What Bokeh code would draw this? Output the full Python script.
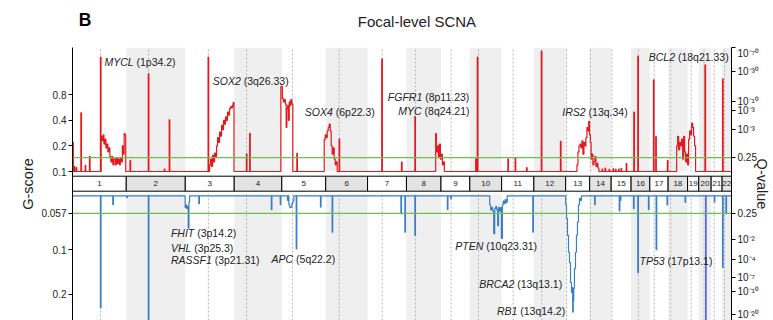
import math
from bokeh.plotting import figure
from bokeh.layouts import column
from bokeh.models import (Range1d, LogScale, LinearScale, LogAxis, FixedTicker,
                          CustomJSTickFormatter, Label)
from bokeh.core.properties import value
from bokeh.embed import file_html
from bokeh.resources import INLINE

# ---------------- data ----------------
chrom_names = [str(i) for i in range(1, 23)]
chrom_len = [235, 258, 214, 208, 192, 183, 170, 151, 126, 139, 141, 139,
             105, 94, 87, 82, 80, 85, 49, 54, 48, 41]
centromere = [123, 97.6, 101, 54, 47, 59, 64, 39, 44, 38, 50.5, 34.6,
              3.6, 3.2, 3, 32, 19, 11, 15.4, 23, 13.6, 10.5]

# amplification G-scores: focal spikes (genome Mb, G-score)
amp_spike_pos = [2.2, 8.7, 17.4, 37.9, 56.7, 75.4, 123.3, 252.8, 332.6, 402.3, 424.1,
                 594.1, 761.4, 775.8, 982.0, 1166.8, 1353.3, 1439.6, 1498.0, 1763.9,
                 1770.9, 1904.7, 1936.5, 1986.2, 2050.7, 2134.4, 2316.5, 2329.6, 2347.0,
                 2364.4, 2375.4, 2388.5, 2399.4, 2422.0, 2455.2, 2472.6, 2541.0, 2551.0,
                 2602.0, 2766.3, 2843.0]
amp_spike_g = [0.221, 0.114, 0.111, 0.49, 0.118, 0.151, 2.21, 0.135, 1.41, 0.107, 0.405,
               2.21, 0.161, 0.282, 0.164, 0.242, 2.11, 0.129, 0.443, 0.141,
               2.21, 0.141, 0.146, 0.111, 2.6, 0.227, 0.107, 0.11, 0.106,
               0.108, 0.106, 0.107, 0.109, 0.124, 0.5, 2.28, 1.2, 0.258,
               0.135, 1.8, 1.23]
# broad amplified regions: breakpoints (Mb) and G-score per interval
amp_1p_pos = [125.5, 129.9, 134.2, 137.3, 141.7, 146.0, 150.4, 154.7, 159.1, 163.4, 167.8,
              172.2, 176.5, 180.9, 187.4, 191.8, 196.1, 200.5, 204.8, 209.2, 213.6, 217.9,
              222.3, 225.8, 229.3, 232.7]
amp_1p_g = [0.26, 0.23, 0.27, 0.21, 0.24, 0.19, 0.21, 0.17, 0.19, 0.15, 0.13, 0.15, 0.12,
            0.14, 0.12, 0.145, 0.125, 0.14, 0.12, 0.145, 0.13, 0.20, 0.16, 0.28, 0.27]
amp_3q_pos = [599.3, 603.6, 608.0, 612.4, 616.7, 621.1, 625.4, 629.8, 634.2, 638.5, 642.9,
              647.2, 651.6, 655.9, 660.3, 664.7, 669.0, 673.4, 677.7, 682.1, 686.5, 690.8,
              695.2, 699.5, 702.6, 706.1]
amp_3q_g = [0.12, 0.14, 0.115, 0.155, 0.13, 0.165, 0.15, 0.2, 0.25, 0.22, 0.29, 0.26, 0.35,
            0.31, 0.4, 0.36, 0.44, 0.4, 0.5, 0.46, 0.55, 0.58, 0.56, 0.6, 0.65]
amp_5p_pos = [910.9, 917.5, 921.8, 926.2, 930.5, 934.0, 937.1, 940.6, 944.0, 947.5, 951.0,
              954.5, 958.9, 963.2]
amp_5p_g = [1.0, 0.72, 0.66, 0.7, 0.62, 0.33, 0.55, 0.6, 0.4, 0.66, 0.6, 0.7, 0.62]
amp_6p_pos = [1100.5, 1104.9, 1109.2, 1113.6, 1117.9, 1122.3, 1126.7, 1131.0, 1135.4,
              1139.7, 1144.1, 1148.5, 1152.8, 1157.2]
amp_6p_g = [0.24, 0.27, 0.25, 0.3, 0.33, 0.36, 0.3, 0.2, 0.16, 0.19, 0.14, 0.12, 0.13]
amp_8q_pos = [1587.8, 1590.9, 1595.2, 1599.6, 1603.9, 1608.3, 1612.6, 1617.0, 1621.4, 1625.7]
amp_8q_g = [0.28, 0.17, 0.2, 0.15, 0.21, 0.14, 0.16, 0.12, 0.13]
amp_13q_pos = [2205.4, 2209.7, 2214.1, 2218.5, 2222.8, 2227.2, 2231.5, 2235.9, 2240.3, 2244.6,
               2249.0, 2253.3, 2256.8, 2260.3, 2263.8, 2267.3, 2270.8, 2275.1, 2279.5,
               2283.8, 2288.2, 2292.6, 2296.9, 2301.3]
amp_13q_g = [0.12, 0.17, 0.2, 0.21, 0.19, 0.23, 0.16, 0.22, 0.2, 0.25, 0.33, 0.3, 0.39, 0.27,
             0.22, 0.14, 0.16, 0.12, 0.13, 0.15, 0.115, 0.125, 0.11]
amp_18q_pos = [2641.3, 2645.6, 2650.0, 2654.4, 2658.7, 2663.1, 2667.4, 2671.8, 2676.1, 2680.5,
               2684.9, 2689.2, 2693.6, 2697.9, 2702.3, 2706.7, 2711.0, 2715.4, 2719.7, 2724.1]
amp_18q_g = [0.2, 0.26, 0.18, 0.22, 0.2, 0.24, 0.14, 0.26, 0.17, 0.13, 0.16, 0.12, 0.24, 0.3,
             0.27, 0.37, 0.33, 0.26, 0.2]
amp_baseline = 0.1
amp_threshold = 0.146
amp_g_ticks = [0.1, 0.2, 0.4, 0.8]
amp_g_tick_label = ["0.1", "0.2", "0.4", "0.8"]
amp_q_g = [2.86, 1.512, 0.665, 0.522, 0.309, 0.146]
amp_q_label = ["10\u207b\u2077\u2070", "10\u207b\u00b3\u2070", "10\u207b\u00b9\u2070",
               "10\u207b\u00b3", "10\u207b\u00b3", "0.25"]

# deletion G-scores
del_spike_pos = [123.3, 177.4, 238.4, 332.6, 553.5, 870.4, 909.6, 941.4, 979.3, 1085.3,
                 1136.3, 1437.0, 1454.4, 1498.0, 1640.1, 1654.9, 2013.6, 2283.8, 2391.5,
                 2395.9, 2453.8, 2472.6, 2519.2, 2552.8, 2600.7, 2679.2, 2806.9, 2843.1, 2857.9]
del_spike_g = [0.246, 0.0498, 0.0447, 0.31, 0.049, 0.0538, 0.0497, 0.0466, 0.0986, 0.0516,
               0.0762, 0.0573, 0.0762, 0.0802, 0.0538, 0.0453, 0.0762, 0.0498, 0.0548,
               0.0466, 0.053, 0.143, 0.0538, 0.100, 0.050, 0.048, 0.0477, 0.132, 0.0573]
del_3p_pos = [492.5, 496.0, 499.5, 503.0, 505.6, 509.1, 511.7]
del_3p_g = [0.052, 0.05, 0.053, 0.051, 0.0716, 0.048]
del_5q_pos = [945.8, 950.1, 954.5, 958.9, 963.2, 967.6]
del_5q_g = [0.05, 0.052, 0.0516, 0.049, 0.047]
del_10q_pos = [1824.0, 1828.4, 1832.7, 1837.1, 1841.5, 1845.8, 1850.2, 1854.5, 1858.9, 1862.4,
               1866.7, 1871.1, 1875.0, 1879.4, 1882.9, 1887.2, 1891.6, 1896.0, 1900.3]
del_10q_g = [0.05, 0.054, 0.052, 0.055, 0.078, 0.053, 0.051, 0.054, 0.069, 0.052, 0.055,
             0.052, 0.084, 0.05, 0.047, 0.049, 0.046, 0.048]
del_13q_pos = [2156.1, 2159.6, 2164.0, 2168.4, 2172.7, 2177.1, 2181.4, 2184.5, 2186.7, 2189.3,
               2191.4, 2194.5, 2198.9, 2203.2, 2207.6, 2211.9, 2216.3, 2220.7, 2225.0]
del_13q_g = [0.05, 0.0615, 0.08, 0.104, 0.122, 0.166, 0.194, 0.179, 0.263, 0.22, 0.182,
             0.134, 0.104, 0.08, 0.0652, 0.05, 0.0452, 0.0466]
del_focal_pos = [2769.0]
del_focal_g = [0.31]
del_baseline = 0.0434
del_threshold = 0.057
del_g_ticks = [0.057, 0.1, 0.2]
del_g_tick_label = ["0.057", "0.1", "0.2"]
del_q_g = [0.057, 0.0853, 0.1161, 0.1539, 0.1911, 0.2727]
del_q_label = ["0.25", "10\u207b\u00b2", "10\u207b\u2074", "10\u207b\u2077",
               "10\u207b\u00b9\u2070", "10\u207b\u00b2\u2070"]

gene_names = ["MYCL", "SOX2", "SOX4", "FGFR1", "MYC", "IRS2", "BCL2",
              "FHIT", "VHL", "RASSF1", "APC", "PTEN", "BRCA2", "RB1", "TP53"]
gene_loci = ["(1p34.2)", "(3q26.33)", "(6p22.3)", "(8p11.23)", "(8q24.21)", "(13q.34)",
             "(18q21.33)", "(3p14.2)", "(3p25.3)", "(3p21.31)", "(5q22.2)", "(10q23.31)",
             "(13q13.1)", "(13q14.2)", "(17p13.1)"]

# ---------------- layout / style ----------------
label_xy = [(139.5, 259), (613.2, 239.3), (1015.5, 208.3), (1378.6, 223.3), (1424.4, 209.3),
            (2141.3, 208.3), (2519.2, 264), (430.2, 87.3), (430.2, 72.7), (430.2, 60.7),
            (870.4, 61.7), (1673.7, 75), (1778.3, 36.7), (1855.4, 10), (2478.7, 60)]

FONT = "Liberation Sans"
TEXT = "#222222"
RED = "#e3191f"
BLUE = "#3b7dc8"
GREEN = "#6cbf4f"

FRAME_H = 273
AMP_BOTTOM, AMP_TOP = 149, 273
BAR_BOTTOM, BAR_TOP = 129.3, 144.3
DEL_BOTTOM, DEL_TOP = 0, 126
amp_range = (0.001772, 2.872)
del_range = (0.2996, 0.004352)

ARIAL = {"A": 667, "B": 667, "C": 722, "E": 667, "F": 611, "G": 778, "H": 722, "I": 278,
         "L": 556, "M": 833, "N": 722, "O": 778, "P": 667, "R": 722, "S": 667, "T": 611,
         "V": 667, "X": 667, "Y": 667, " ": 278}
for d in "0123456789":
    ARIAL[d] = 556


def text_w(s, size):
    return sum(ARIAL.get(c, 556) for c in s) / 1000.0 * size


genome_total = sum(chrom_len)
chrom_start = []
acc = 0
for L in chrom_len:
    chrom_start.append(acc)
    acc += L
chrom_end = [s + L for s, L in zip(chrom_start, chrom_len)]
chrom_mid = [(s + e) / 2 for s, e in zip(chrom_start, chrom_end)]
centro_pos = [s + c for s, c in zip(chrom_start, centromere)]


def build_profile(spike_pos, spike_g, blocks, base, half_w=1.3):
    pieces = [(x - half_w, x + half_w, g) for x, g in zip(spike_pos, spike_g)]
    for edges, vals in blocks:
        for i, g in enumerate(vals):
            pieces.append((edges[i], edges[i + 1], g))
    pieces.sort()
    xs, ys = [0.0], [base]
    cur, level = 0.0, base
    for s, e, g in pieces:
        if s > cur + 1e-6:
            if level != base:
                xs.append(cur); ys.append(base)
            xs.append(s); ys.append(base)
        else:
            s = cur
        xs += [s, e]
        ys += [g, g]
        cur, level = e, g
    xs += [cur, genome_total]
    ys += [base, base]
    return xs, ys


def del_to_amp(v):
    f = (math.log(v) - math.log(del_range[0])) / (math.log(del_range[1]) - math.log(del_range[0]))
    return math.exp(math.log(amp_range[0]) + f * (math.log(amp_range[1]) - math.log(amp_range[0])))


# ---------------- header (panel letter + title) ----------------
hdr = figure(width=773, height=47, output_backend="svg", toolbar_location=None,
             x_range=Range1d(0, 773), y_range=Range1d(0, 47),
             x_axis_location=None, y_axis_location=None,
             min_border_left=0, min_border_right=0, min_border_top=0, min_border_bottom=0)
hdr.grid.visible = False
hdr.outline_line_color = None
hdr.text(x=[7.3], y=[27.7], text=["B"], text_font=value(FONT), text_font_size="17.5px",
         text_font_style="bold", text_color="black", text_align="left",
         text_baseline="alphabetic")
hdr.text(x=[404], y=[26], text=["Focal-level SCNA"], text_font=value(FONT),
         text_font_size="15px", text_color=TEXT, text_align="center", text_baseline="middle")

# ---------------- main plot ----------------
p = figure(width=773, height=273, output_backend="svg", toolbar_location=None,
           x_range=Range1d(0, genome_total), y_range=Range1d(*amp_range),
           y_axis_type="log", x_axis_location=None, y_axis_location="left",
           min_border_left=72, min_border_right=40, min_border_top=0, min_border_bottom=0)
p.extra_y_ranges = {"del": Range1d(*del_range), "lay": Range1d(0, FRAME_H)}
p.extra_y_scales = {"del": LogScale(), "lay": LinearScale()}
p.grid.visible = False
p.outline_line_color = None
p.background_fill_color = "white"
p.border_fill_color = "white"

# shading of even chromosomes and centromere guides
even = [i for i in range(len(chrom_len)) if i % 2 == 1]
for b, t in [(AMP_BOTTOM, AMP_TOP), (DEL_BOTTOM, DEL_TOP)]:
    p.quad(left=[chrom_start[i] for i in even], right=[chrom_end[i] for i in even],
           bottom=b, top=t, y_range_name="lay", fill_color="#efefef", line_color=None)
    p.segment(x0=centro_pos, y0=b, x1=centro_pos, y1=t, y_range_name="lay",
              line_color="#b3b3b3", line_width=1, line_dash="2 2")

# chromosome bar
p.quad(left=chrom_start, right=chrom_end, bottom=BAR_BOTTOM, top=BAR_TOP, y_range_name="lay",
       fill_color=["#e3e3e3" if i % 2 == 1 else "white" for i in range(len(chrom_len))],
       line_color="black", line_width=1)
p.text(x=chrom_mid, y=[(BAR_BOTTOM + BAR_TOP) / 2] * len(chrom_mid), text=chrom_names,
       y_range_name="lay", text_align="center", text_baseline="middle",
       text_font=value(FONT), text_font_size="8px", text_color=TEXT)

# profiles
ax, ay = build_profile(amp_spike_pos, amp_spike_g,
                       [(amp_1p_pos, amp_1p_g), (amp_3q_pos, amp_3q_g), (amp_5p_pos, amp_5p_g),
                        (amp_6p_pos, amp_6p_g), (amp_8q_pos, amp_8q_g), (amp_13q_pos, amp_13q_g),
                        (amp_18q_pos, amp_18q_g)], amp_baseline)
p.line(ax, ay, line_color=RED, line_width=1.2)
dx, dy = build_profile(del_spike_pos, del_spike_g,
                       [(del_3p_pos, del_3p_g), (del_5q_pos, del_5q_g),
                        (del_10q_pos, del_10q_g), (del_13q_pos, del_13q_g)], del_baseline)
p.line(dx, dy, y_range_name="del", line_color=BLUE, line_width=1.2)
p.segment(x0=del_focal_pos, y0=del_baseline, x1=del_focal_pos, y1=del_focal_g,
          y_range_name="del", line_color="#4a5be6", line_width=1.6)

# significance thresholds
p.line([0, genome_total], [amp_threshold] * 2, line_color=GREEN, line_width=1.3)
p.line([0, genome_total], [del_threshold] * 2, y_range_name="del", line_color=GREEN, line_width=1.3)

# axes
JS = """
for (let i = 0; i < vals.length; i++) {
  if (Math.abs(Math.log(vals[i]) - Math.log(tick)) < 1e-6) return labs[i];
}
return "";
"""
left_ticks = amp_g_ticks + [del_to_amp(v) for v in del_g_ticks]
left_labels = amp_g_tick_label + del_g_tick_label
right_ticks = amp_q_g + [del_to_amp(v) for v in del_q_g]
right_labels = amp_q_label + del_q_label

left = p.yaxis[0]
left.ticker = FixedTicker(ticks=left_ticks, minor_ticks=[])
left.formatter = CustomJSTickFormatter(args=dict(vals=left_ticks, labs=left_labels), code=JS)
left.axis_label = "G-score"
left.axis_label_standoff = 2
right = LogAxis(ticker=FixedTicker(ticks=right_ticks, minor_ticks=[]),
                formatter=CustomJSTickFormatter(args=dict(vals=right_ticks, labs=right_labels), code=JS))
right.axis_label = "Q-value"
right.axis_label_standoff = -8
p.add_layout(right, "right")
for a in (left, right):
    a.axis_line_color = "black"
    a.axis_line_width = 1
    a.major_tick_line_color = "black"
    a.major_tick_out = 4
    a.major_tick_in = 0
    a.minor_tick_line_color = None
    a.major_label_text_font = FONT
    a.major_label_text_font_size = "10px"
    a.major_label_text_color = TEXT
    a.major_label_standoff = 2
    a.axis_label_text_font = FONT
    a.axis_label_text_font_size = "14.5px"
    a.axis_label_text_font_style = "normal"
    a.axis_label_text_color = TEXT

# gene labels
for name, loc, (x, y) in zip(gene_names, gene_loci, label_xy):
    p.add_layout(Label(x=x, y=y, y_range_name="lay", text=name, text_font=FONT,
                       text_font_size="10.5px", text_font_style="italic", text_color=TEXT,
                       text_align="left", text_baseline="middle"))
    p.add_layout(Label(x=x, y=y, y_range_name="lay", text=loc, text_font=FONT,
                       x_offset=text_w(name + " ", 10.5),
                       text_font_size="10.5px", text_color=TEXT,
                       text_align="left", text_baseline="middle"))

layout = column(hdr, p, spacing=0)
html = file_html(layout, INLINE, title="Focal-level SCNA")
with open("out.html", "w", encoding="utf-8") as fh:
    fh.write(html)
